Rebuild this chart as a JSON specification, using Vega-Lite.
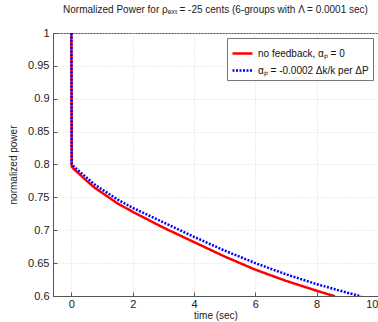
{
  "$schema": "https://vega.github.io/schema/vega-lite/v6.json",
  "width": 325,
  "height": 263,
  "autosize": {"type": "none"},
  "padding": {"left": 53, "top": 33, "right": 0, "bottom": 26},
  "background": "white",
  "title": {
    "text": "Normalized Power for ρₑₓₜ = -25 cents (6-groups with Λ = 0.0001 sec)",
    "font": "Liberation Sans",
    "fontSize": 10,
    "fontWeight": "normal",
    "color": "#222",
    "offset": 12,
    "anchor": "middle"
  },
  "config": {
    "font": "Liberation Sans",
    "view": {"stroke": "#555", "strokeWidth": 1},
    "axis": {
      "labelFont": "Liberation Sans",
      "titleFont": "Liberation Sans",
      "labelFontSize": 11,
      "titleFontSize": 10,
      "titleFontWeight": "normal",
      "labelColor": "#222",
      "titleColor": "#222",
      "domainColor": "#555",
      "tickColor": "#555",
      "tickSize": -4,
      "gridColor": "#d8d8d8",
      "gridDash": [1, 2],
      "labelPadding": 8
    }
  },
  "data": {
    "values": [
      {"t": 0, "p": 1.0, "s": "no feedback, αₚ = 0"},
      {"t": 0.01, "p": 0.797, "s": "no feedback, αₚ = 0"},
      {"t": 0.1, "p": 0.792, "s": "no feedback, αₚ = 0"},
      {"t": 0.25, "p": 0.786, "s": "no feedback, αₚ = 0"},
      {"t": 0.5, "p": 0.775, "s": "no feedback, αₚ = 0"},
      {"t": 0.75, "p": 0.765, "s": "no feedback, αₚ = 0"},
      {"t": 1, "p": 0.757, "s": "no feedback, αₚ = 0"},
      {"t": 1.5, "p": 0.741, "s": "no feedback, αₚ = 0"},
      {"t": 2, "p": 0.728, "s": "no feedback, αₚ = 0"},
      {"t": 2.5, "p": 0.716, "s": "no feedback, αₚ = 0"},
      {"t": 3, "p": 0.704, "s": "no feedback, αₚ = 0"},
      {"t": 3.5, "p": 0.693, "s": "no feedback, αₚ = 0"},
      {"t": 4, "p": 0.682, "s": "no feedback, αₚ = 0"},
      {"t": 5, "p": 0.66, "s": "no feedback, αₚ = 0"},
      {"t": 6, "p": 0.64, "s": "no feedback, αₚ = 0"},
      {"t": 7, "p": 0.623, "s": "no feedback, αₚ = 0"},
      {"t": 8, "p": 0.608, "s": "no feedback, αₚ = 0"},
      {"t": 8.6, "p": 0.5995, "s": "no feedback, αₚ = 0"},
      {"t": 0, "p": 1.0, "s": "αₚ = -0.0002 Δk/k per ΔP"},
      {"t": 0.01, "p": 0.801, "s": "αₚ = -0.0002 Δk/k per ΔP"},
      {"t": 0.1, "p": 0.796, "s": "αₚ = -0.0002 Δk/k per ΔP"},
      {"t": 0.25, "p": 0.79, "s": "αₚ = -0.0002 Δk/k per ΔP"},
      {"t": 0.5, "p": 0.78, "s": "αₚ = -0.0002 Δk/k per ΔP"},
      {"t": 0.75, "p": 0.77, "s": "αₚ = -0.0002 Δk/k per ΔP"},
      {"t": 1, "p": 0.762, "s": "αₚ = -0.0002 Δk/k per ΔP"},
      {"t": 1.5, "p": 0.747, "s": "αₚ = -0.0002 Δk/k per ΔP"},
      {"t": 2, "p": 0.734, "s": "αₚ = -0.0002 Δk/k per ΔP"},
      {"t": 2.5, "p": 0.723, "s": "αₚ = -0.0002 Δk/k per ΔP"},
      {"t": 3, "p": 0.712, "s": "αₚ = -0.0002 Δk/k per ΔP"},
      {"t": 3.5, "p": 0.701, "s": "αₚ = -0.0002 Δk/k per ΔP"},
      {"t": 4, "p": 0.69, "s": "αₚ = -0.0002 Δk/k per ΔP"},
      {"t": 5, "p": 0.669, "s": "αₚ = -0.0002 Δk/k per ΔP"},
      {"t": 6, "p": 0.65, "s": "αₚ = -0.0002 Δk/k per ΔP"},
      {"t": 7, "p": 0.633, "s": "αₚ = -0.0002 Δk/k per ΔP"},
      {"t": 8, "p": 0.618, "s": "αₚ = -0.0002 Δk/k per ΔP"},
      {"t": 9, "p": 0.605, "s": "αₚ = -0.0002 Δk/k per ΔP"},
      {"t": 9.45, "p": 0.5995, "s": "αₚ = -0.0002 Δk/k per ΔP"}
    ]
  },
  "mark": {"type": "line", "strokeWidth": 2.5, "clip": true},
  "encoding": {
    "x": {
      "field": "t",
      "type": "quantitative",
      "scale": {"domain": [-0.6, 10], "nice": false, "zero": false},
      "axis": {"values": [0, 2, 4, 6, 8, 10], "title": "time (sec)", "titlePadding": 1, "labelPadding": 6}
    },
    "y": {
      "field": "p",
      "type": "quantitative",
      "scale": {"domain": [0.6, 1], "nice": false, "zero": false},
      "axis": {
        "values": [0.6, 0.65, 0.7, 0.75, 0.8, 0.85, 0.9, 0.95, 1],
        "format": ".2~f",
        "title": "normalized power",
        "titlePadding": 9
      }
    },
    "color": {
      "field": "s",
      "type": "nominal",
      "sort": ["no feedback, αₚ = 0", "αₚ = -0.0002 Δk/k per ΔP"],
      "scale": {"domain": ["no feedback, αₚ = 0", "αₚ = -0.0002 Δk/k per ΔP"], "range": ["#ff0000", "#0000ff"]},
      "legend": {
        "title": null,
        "orient": "none",
        "legendX": 174,
        "legendY": 5,
        "fillColor": "white",
        "strokeColor": "#777",
        "padding": 4,
        "labelFont": "Liberation Sans",
        "labelFontSize": 10,
        "labelColor": "#111",
        "symbolType": "stroke",
        "symbolSize": 400,
        "symbolStrokeWidth": 2.5,
        "rowPadding": 0
      }
    },
    "strokeDash": {
      "field": "s",
      "type": "nominal",
      "sort": ["no feedback, αₚ = 0", "αₚ = -0.0002 Δk/k per ΔP"],
      "scale": {"domain": ["no feedback, αₚ = 0", "αₚ = -0.0002 Δk/k per ΔP"], "range": [[1, 0], [2, 1.5]]},
      "legend": null
    }
  }
}
